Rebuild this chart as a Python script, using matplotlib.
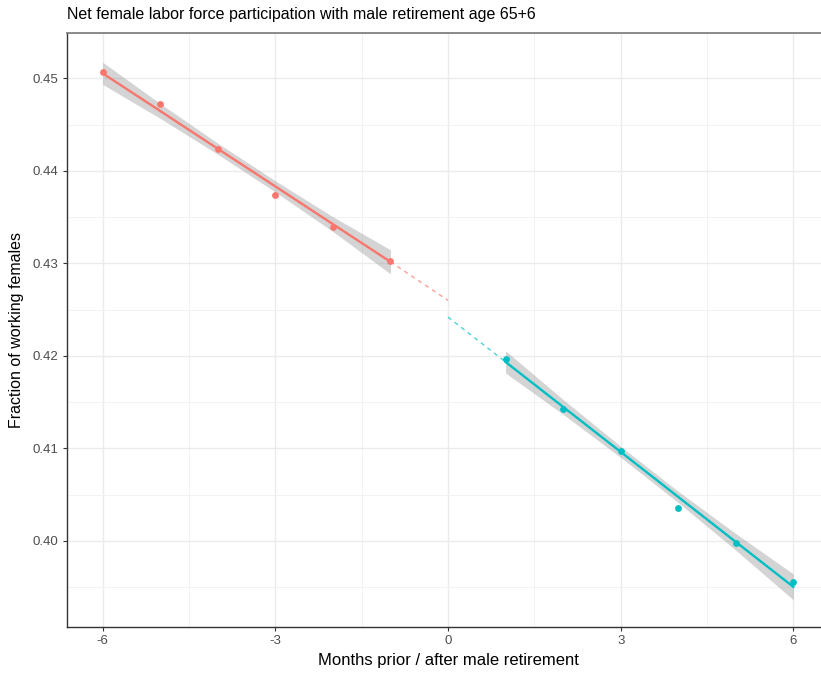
import matplotlib
matplotlib.use("Agg")
import matplotlib.pyplot as plt
import numpy as np

plt.rcParams['font.family'] = ['Liberation Sans', 'DejaVu Sans']
plt.rcParams['axes.unicode_minus'] = False

# monthly points
months_pre = [-6, -5, -4, -3, -2, -1]
share_pre = [0.45071, 0.44719, 0.44232, 0.43735, 0.43396, 0.43028]
months_post = [1, 2, 3, 4, 5, 6]
share_post = [0.41962, 0.41425, 0.40971, 0.40358, 0.39973, 0.39551]

# fitted line and confidence half-width at each month
fit_pre = [0.45054, 0.44647, 0.44239, 0.43832, 0.43424, 0.43017]
band_pre = [0.0012, 0.0008, 0.0006, 0.0006, 0.0008, 0.0013]
fit_post = [0.41935, 0.41449, 0.40963, 0.40476, 0.39990, 0.39504]
band_post = [0.0012, 0.0008, 0.0006, 0.0006, 0.0009, 0.0014]

# dashed extrapolation to the cutoff
cut_x = 0
cut_pre = 0.4260
cut_post = 0.4242

red = '#F8766D'
cyan = '#00BFC4'

W, H = 821, 673
fig = plt.figure(figsize=(W / 100, H / 100), dpi=100)
ax = fig.add_axes([67 / W, (H - 627) / H, (829 - 67) / W, (627 - 33) / H])

for mx, fv, bw, col in [(months_pre, fit_pre, band_pre, red),
                        (months_post, fit_post, band_post, cyan)]:
    fv = np.array(fv)
    bw = np.array(bw)
    ax.fill_between(mx, fv - bw, fv + bw, color='#999999', alpha=0.42, lw=0, zorder=2)
    ax.plot(mx, fv, color=col, lw=1.7, zorder=3)

ax.plot([months_pre[-1], cut_x], [fit_pre[-1], cut_pre], color=red, lw=1.0,
        ls=(0, (3, 3)), alpha=0.7, zorder=3)
ax.plot([cut_x, months_post[0]], [cut_post, fit_post[0]], color=cyan, lw=1.0,
        ls=(0, (3, 3)), alpha=0.7, zorder=3)

ax.scatter(months_pre, share_pre, s=24, color=red, zorder=4, lw=0)
ax.scatter(months_post, share_post, s=24, color=cyan, zorder=4, lw=0)

ax.set_xlim(-6.62, 6.62)
ax.set_ylim(0.3907, 0.4549)
ax.set_xticks([-6, -3, 0, 3, 6])
ax.set_xticks([-4.5, -1.5, 1.5, 4.5], minor=True)
ax.set_yticks([0.40, 0.41, 0.42, 0.43, 0.44, 0.45])
ax.set_yticks([0.395, 0.405, 0.415, 0.425, 0.435, 0.445], minor=True)
ax.set_yticklabels(['0.40', '0.41', '0.42', '0.43', '0.44', '0.45'])

ax.grid(which='major', color='#EBEBEB', lw=1.0, zorder=0)
ax.grid(which='minor', color='#F2F2F2', lw=0.7, zorder=0)
ax.set_axisbelow(True)
ax.tick_params(which='major', length=3, width=0.8, color='#333333',
               labelcolor='#4D4D4D', labelsize=9.5, pad=3)
ax.tick_params(which='minor', length=0)

for side in ['left', 'bottom']:
    ax.spines[side].set_color('#333333')
    ax.spines[side].set_linewidth(1.0)
for side in ['top', 'right']:
    ax.spines[side].set_color('#777777')
    ax.spines[side].set_linewidth(1.2)

ax.set_xlabel('Months prior / after male retirement', fontsize=12, labelpad=4)
ax.set_ylabel('Fraction of working females', fontsize=11.5, labelpad=6)
fig.text(67 / W, 1 - 15 / H, 'Net female labor force participation with male retirement age 65+6',
         fontsize=11.5, va='center', ha='left')

fig.savefig('out.png', dpi=100)
